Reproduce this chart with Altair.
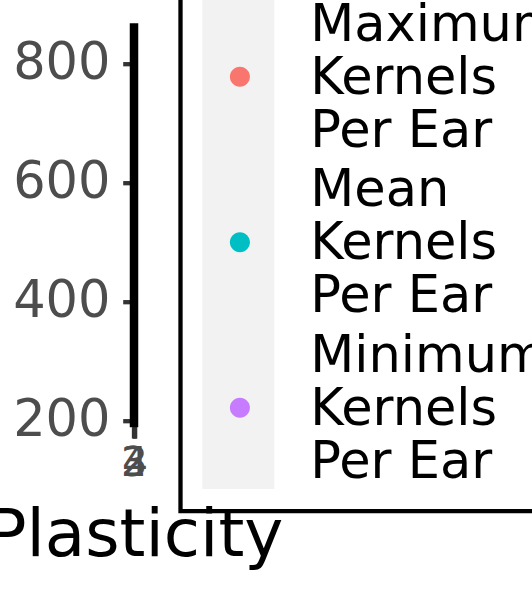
import altair as alt
import pandas as pd

# ---- data ----
series = ["Maximum\nKernels\nPer Ear", "Mean\nKernels\nPer Ear", "Minimum\nKernels\nPer Ear"]
series_colors = ["#F8766D", "#00BFC4", "#C77CFF"]
plasticity = [1.8, 2.3, 2.9, 3.4, 4.1]
max_kernels = [781, 812, 838, 798, 824]
mean_kernels = [512, 548, 575, 533, 560]
min_kernels = [220, 264, 298, 247, 283]
x_ticks = [2, 3, 4]
y_ticks = [200, 400, 600, 800]

rows = []
for s, vals in zip(series, [max_kernels, mean_kernels, min_kernels]):
    for p, v in zip(plasticity, vals):
        rows.append({"Plasticity": p, "value": v, "series": s})
df = pd.DataFrame(rows)

all_vals = max_kernels + mean_kernels + min_kernels
lo, hi = min(all_vals), max(all_vals)
pad = 0.05 * (hi - lo)
y_domain = [lo - pad, hi + pad]

FONT = "DejaVu Sans"

x_enc = alt.X(
    "Plasticity:Q",
    scale=alt.Scale(zero=False, nice=False),
    axis=alt.Axis(
        values=x_ticks, title="Plasticity", domain=False, grid=False,
        tickColor="#333333", tickWidth=4.3, tickSize=11.3,
        labelFont=FONT, labelFontSize=41, labelColor="#4D4D4D", labelPadding=5.0,
        labelOverlap=False, labelFlush=False,
        titleFont=FONT, titleFontSize=66, titleColor="black", titleFontWeight="normal",
        titleBaseline="alphabetic", titleAlign="center", titleX=1, titleY=128.3,
        zindex=1,
    ),
)
y_enc = alt.Y(
    "value:Q",
    scale=alt.Scale(domain=y_domain, nice=False, zero=False),
    axis=alt.Axis(
        values=y_ticks, title=None, grid=False,
        domainColor="black", domainWidth=8.5,
        tickColor="#333333", tickWidth=4.3, tickSize=10.8,
        labelFont=FONT, labelFontSize=51, labelColor="#4D4D4D", labelPadding=12.7,
        zindex=1,
    ),
)

# legend key background (grey column) and dot symbol shapes
rect_path = "M-0.4364,-1H0.4364V1H-0.4364Z"
dot_path = "M-1.13,5.756A1.13,1.13,0,1,1,1.13,5.756A1.13,1.13,0,1,1,-1.13,5.756Z"

keys = alt.Chart(df).transform_calculate(key="datum.series").mark_point(
    filled=True, color="#F2F2F2", opacity=1, size=27225, clip=True
).encode(
    x=x_enc, y=y_enc,
    shape=alt.Shape(
        "key:N",
        scale=alt.Scale(range=[rect_path, rect_path, rect_path]),
        legend=alt.Legend(
            title=None, orient="none", legendX=47, legendY=-50.5, padding=21.8,
            strokeColor="black",
            symbolSize=27225, symbolStrokeWidth=0, symbolFillColor="#F2F2F2",
            symbolOffset=-46.5, labelOpacity=0, labelFont=FONT, labelFontSize=50,
            labelLimit=2000, rowPadding=0, zindex=0,
        ),
    ),
)

points = alt.Chart(df).mark_point(
    filled=True, opacity=1, size=314, clip=True, shape=dot_path
).encode(
    x=x_enc, y=y_enc,
    color=alt.Color(
        "series:N",
        scale=alt.Scale(domain=series, range=series_colors),
        legend=alt.Legend(
            title=None, orient="none", legendX=80.9, legendY=-22.4, padding=0,
            symbolType=dot_path, symbolSize=314, symbolStrokeWidth=0,
            labelFont=FONT, labelFontSize=51, labelColor="black", labelLimit=1000,
            labelOffset=44.9, rowPadding=7.5,
            labelExpr="split(datum.label, '\\n')", zindex=1,
        ),
    ),
)

chart = alt.layer(keys, points).properties(
    width=1, height=404,
    autosize="none",
    padding={"left": 133.5, "top": 22.7, "right": 397.5, "bottom": 167.3},
    background="white",
).configure_view(stroke=None).configure_legend(strokeWidth=4.3)

chart.save("out.html", embed_options={"renderer": "svg", "actions": False})
